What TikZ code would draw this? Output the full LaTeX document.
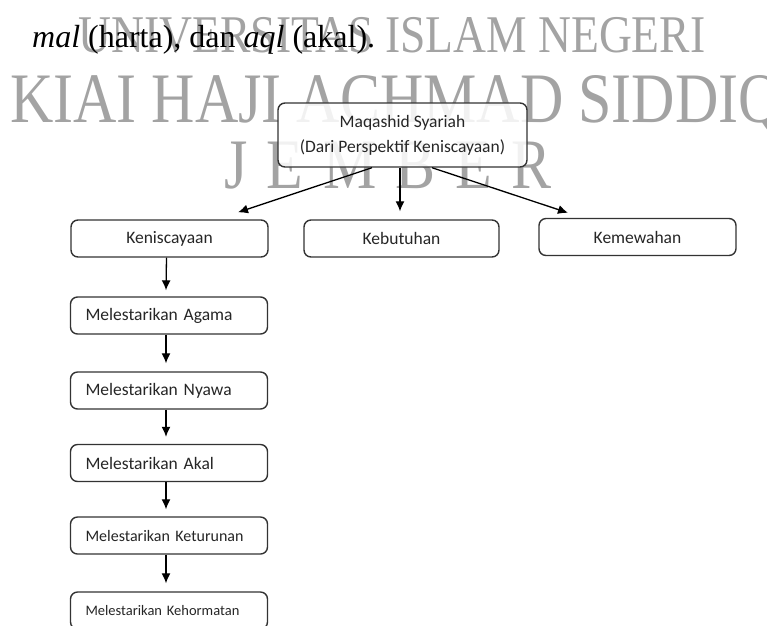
\documentclass[tikz,border=0pt]{standalone}
\usepackage{fontspec}
\setmainfont{Liberation Serif}
\newfontfamily\calibri{Carlito}
\usetikzlibrary{arrows.meta}
\definecolor{wmgray}{HTML}{A3A3A3}
\definecolor{boxline}{HTML}{333333}
\begin{document}
\begin{tikzpicture}[x=1pt,y=-1pt,
 box/.style={draw=boxline, line width=1.4pt, rounded corners=7pt, fill=white, fill opacity=0.85, text opacity=1, minimum width=197pt, minimum height=37pt, inner sep=0pt, font=\calibri\fontsize{17.5}{21}\selectfont, text=black!85},
 lbox/.style={box, text width=167pt, align=left},
 arr/.style={line width=1.3pt, -{Latex[length=10pt,width=9pt]}},
 wm/.style={text=wmgray, inner sep=0pt}]
\useasboundingbox (0,0) rectangle (767,625);
\clip (0,0) rectangle (767,625);
% watermark
\node[wm, anchor=base] (wm1) at (392,52) {\scalebox{0.86}[1]{\fontsize{53}{53}\selectfont UNIVERSITAS ISLAM NEGERI}};
\node[wm, anchor=base west] (wm2) at (10,122) {\scalebox{0.845}[1]{\fontsize{71}{71}\selectfont KIAI HAJI ACHMAD SIDDIQ}};
\node[wm, anchor=base west] (wm3) at (224,188) {\scalebox{0.845}[1]{\fontsize{71}{71}\selectfont J\hspace{23pt}E\hspace{23pt}M\hspace{23pt}B\hspace{23pt}E\hspace{23pt}R}};
% text line
\node[anchor=base west, inner sep=0pt, font=\fontsize{32}{32}\selectfont] (txt) at (32,47) {\textit{mal} (harta), dan \textit{aql} (akal).};
% boxes
\node[box, minimum width=249pt, minimum height=64pt, align=center, font=\calibri\fontsize{17.5}{25}\selectfont] (top) at (402.5,135) {Maqashid Syariah\\(Dari Perspektif Keniscayaan)};
\node[box] (ken) at (169.5,238.5) {Keniscayaan};
\node[box, minimum width=195pt] (keb) at (401.5,238.5) {Kebutuhan};
\node[box] (kem) at (637.5,237) {Kemewahan};
\node[lbox] (aga) at (169,315.5) {Melestarikan Agama};
\node[lbox] (nya) at (169,390.5) {Melestarikan Nyawa};
\node[lbox] (aka) at (169,463) {Melestarikan Akal};
\node[lbox, font=\calibri\fontsize{16}{19}\selectfont] (ket) at (169,535.5) {Melestarikan Keturunan};
\node[lbox, font=\calibri\fontsize{14.5}{17}\selectfont] (keh) at (169,610.5) {Melestarikan Kehormatan};
% arrows
\draw[arr] ([xshift=-30.5pt]top.south) -- ([xshift=68.5pt,yshift=7pt]ken.north);
\draw[arr] ([xshift=-2.5pt]top.south) -- ([xshift=-1.5pt,yshift=8pt]keb.north);
\draw[arr] ([xshift=29.5pt]top.south) -- ([xshift=-69.5pt,yshift=5pt]kem.north);
\draw[arr] ([xshift=-3pt]ken.south) -- ([xshift=-3pt,yshift=6pt]aga.north);
\draw[arr] ([xshift=-3pt]aga.south) -- ([xshift=-3pt,yshift=8pt]nya.north);
\draw[arr] ([xshift=-3pt]nya.south) -- ([xshift=-3pt,yshift=7pt]aka.north);
\draw[arr] ([xshift=-3pt]aka.south) -- ([xshift=-3pt,yshift=7pt]ket.north);
\draw[arr] ([xshift=-3pt]ket.south) -- ([xshift=-3pt,yshift=8pt]keh.north);
\end{tikzpicture}
\end{document}
